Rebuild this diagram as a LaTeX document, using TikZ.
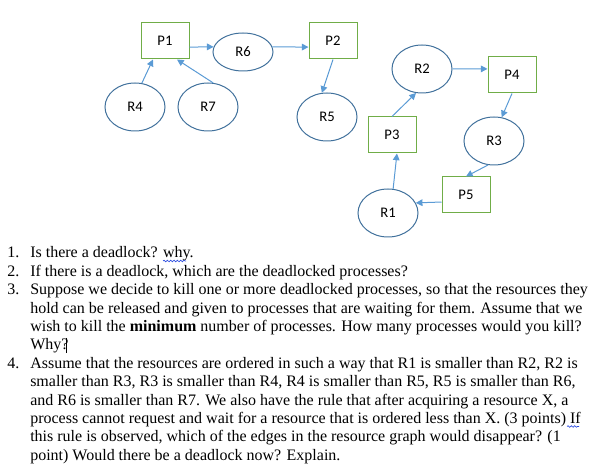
\documentclass[tikz,border=0pt]{standalone}
\usepackage{fontspec}
\setmainfont{Liberation Serif}
\newfontfamily\calibri{Carlito}
\usetikzlibrary{shapes.geometric,arrows.meta,decorations.pathmorphing}
\definecolor{boxgreen}{HTML}{70AD47}
\definecolor{ringblue}{HTML}{41719C}
\definecolor{arrowblue}{HTML}{5B9BD5}
\definecolor{spellblue}{HTML}{2F4FE0}

\begin{document}
\begin{tikzpicture}[x=0.75pt, y=-0.75pt,
    proc/.style={draw=boxgreen, line width=0.75pt, minimum width=36pt, minimum height=27pt,
        inner sep=0pt, font=\calibri\fontsize{11}{13}\selectfont},
    res/.style={ellipse, draw=ringblue, line width=0.75pt, minimum width=45pt, minimum height=36pt,
        inner sep=0pt, font=\calibri\fontsize{11}{13}\selectfont},
    req/.style={draw=arrowblue, line width=0.75pt, -{Triangle[length=5pt, width=5pt]}},
    qnum/.style={anchor=base west, inner sep=0pt, font=\fontsize{12}{13.8}\selectfont},
    qtext/.style={anchor=base west, inner sep=0pt, align=left, font=\fontsize{12}{13.8}\selectfont},
    spell/.style={draw=spellblue, line width=0.5pt, decorate,
        decoration={snake, amplitude=0.6pt, segment length=2.5pt}}
]
\useasboundingbox (0,0) rectangle (601,474);

% processes
\node[proc] (P1) at (165,41) {P1};
\node[proc] (P2) at (333,41) {P2};
\node[proc] (P3) at (392,135) {P3};
\node[proc] (P4) at (512,75) {P4};
\node[proc] (P5) at (466,195) {P5};

% resources
\node[res] (R1) at (388,213) {R1};
\node[res] (R2) at (422,69) {R2};
\node[res] (R3) at (494,141) {R3};
\node[res] (R4) at (135,107) {R4};
\node[res] (R5) at (327,117) {R5};
\node[res, minimum height=28.5pt] (R6) at (243,52) {R6};
\node[res] (R7) at (208,107) {R7};

% edges
\draw[req] (R4.74) -- (P1.237);
\draw[req] (R7.78) -- (P1.303);
\draw[req] (P1.346) -- (R6.170);
\draw[req] (R6.10) -- (P2.194);
\draw[req] (P2.south) -- (R5.102);
\draw[req] (P3.north) -- (R2.256);
\draw[req] (R2.east) -- (P4.166);
\draw[req] (P4.south) -- (R3.72);
\draw[req] (R3.256) -- (P5.north);
\draw[req] (P5.196) -- (R1.20);
\draw[req] (R1.78) -- (P3.285);

% questions (multi-line nodes sit on the baseline of their last line)
\node[qnum] (n1) at (7,258) {1.};
\node[qtext] (q1) at (30,258) {Is there a deadlock? why.};
\node[qnum] (n2) at (7,276.4) {2.};
\node[qtext] (q2) at (30,276.4) {If there is a deadlock, which are the deadlocked processes?};
\node[qnum] (n3) at (7,294.8) {3.};
\node[qtext] (q3) at (30,350) {Suppose we decide to kill one or more deadlocked processes, so that the resources they\\
    hold can be released and given to processes that are waiting for them. Assume that we\\
    wish to kill the \textbf{minimum} number of processes. How many processes would you kill?\\
    Why?};
\node[qnum] (n4) at (7,368.4) {4.};
\node[qtext] (q4) at (30,460.4) {Assume that the resources are ordered in such a way that R1 is smaller than R2, R2 is\\
    smaller than R3, R3 is smaller than R4, R4 is smaller than R5, R5 is smaller than R6,\\
    and R6 is smaller than R7. We also have the rule that after acquiring a resource X, a\\
    process cannot request and wait for a resource that is ordered less than X. (3 points) If\\
    this rule is observed, which of the edges in the resource graph would disappear? (1\\
    point) Would there be a deadlock now? Explain.};

% spelling marks and cursor
\draw[spell] (163,261) -- (186,261);
\draw[spell] (567,426.5) -- (579,426.5);
\draw[line width=0.6pt] (66.5,338) -- (66.5,353);
\end{tikzpicture}
\end{document}
